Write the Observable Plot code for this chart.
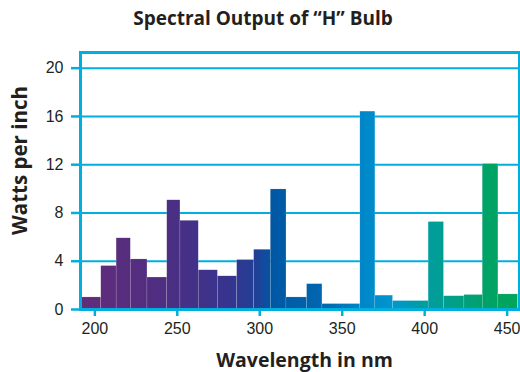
<!DOCTYPE html>
<html>
<head>
<meta charset="utf-8">
<script src="https://cdn.jsdelivr.net/npm/d3@7"></script>
<script src="https://cdn.jsdelivr.net/npm/@observablehq/plot@0.6"></script>
<style>
  html, body { margin: 0; padding: 0; background: #fff; }
  #title { height: 36px; line-height: 36px; width: 520px; text-align: center; padding-left: 6px; box-sizing: border-box;
           font-family: "Open Sans", sans-serif; font-weight: 700; font-size: 19px; color: #231f20; }
  #chart svg { display: block; }
</style>
</head>
<body>
<div id="title">Spectral Output of “H” Bulb</div>
<div id="chart"></div>
<script>
const binEdges = [192.3, 203.9, 213.2, 221.8, 231.9, 243.9, 251.9, 263.0, 274.6, 286.3, 296.6, 306.7,
                  316.2, 328.7, 338.0, 361.0, 370.1, 380.8, 402.4, 411.7, 424.1, 435.2, 444.7, 456.6];
const watts = [1.0, 3.6, 5.9, 4.15, 2.65, 9.05, 7.35, 3.25, 2.75, 4.1, 4.95, 9.95,
               1.0, 2.1, 0.45, 16.4, 1.15, 0.7, 7.25, 1.1, 1.2, 12.05, 1.25];
const xTicks = [200, 250, 300, 350, 400, 450];
const yTicks = [0, 4, 8, 12, 16, 20];
const gridValues = [4, 8, 12, 16, 20];
const xLabel = "Wavelength in nm";
const yLabel = "Watts per inch";

const gradientStops = [
  [0.00, "#632c7a"],
  [0.18, "#4f2e81"],
  [0.34, "#36348e"],
  [0.40, "#223f96"],
  [0.44, "#0058a5"],
  [0.56, "#0068b0"],
  [0.64, "#0085c8"],
  [0.71, "#0096cf"],
  [0.77, "#009ca8"],
  [0.86, "#00a084"],
  [0.93, "#00a266"],
  [1.00, "#00a559"]
];

const bins = watts.map((w, i) => ({lo: binEdges[i], hi: binEdges[i + 1], w}));
const cyan = "#00afdc";
const tickFont = "'Liberation Sans', Arial, sans-serif";

const chart = Plot.plot({
  width: 520,
  height: 336,
  marginTop: 16,
  marginBottom: 63,
  marginLeft: 80,
  marginRight: 1,
  style: {fontFamily: tickFont, fontSize: "16px", color: "#231f20", background: "#fff"},
  x: {domain: [191.3, 457.5]},
  y: {domain: [0, 21.3]},
  marks: [
    Plot.ruleY(gridValues, {stroke: cyan, strokeWidth: 2}),
    Plot.rectY(bins, {x1: "lo", x2: "hi", y: "w", fill: "url(#spec)", stroke: "#fff", strokeWidth: 0.4, strokeOpacity: 0.35}),
    Plot.axisY({ticks: yTicks, tickSize: 9, tickPadding: 8, stroke: cyan, strokeWidth: 2.5, fill: "#231f20", fontSize: 16, label: null}),
    Plot.axisX({ticks: xTicks, tickSize: 7, tickPadding: 6, stroke: cyan, strokeWidth: 2.5, fill: "#231f20", fontSize: 16, label: null}),
    Plot.frame({stroke: cyan, strokeWidth: 3}),
    Plot.text([yLabel], {frameAnchor: "left", textAnchor: "middle", rotate: -90, dx: -60, dy: -20.5, fontFamily: "'Open Sans', sans-serif", fontWeight: 700, fontSize: 20.5, fill: "#231f20"}),
    Plot.text([xLabel], {frameAnchor: "bottom", dx: 4.5, dy: 51.5, lineAnchor: "middle", fontFamily: "'Open Sans', sans-serif", fontWeight: 700, fontSize: 19.5, fill: "#231f20"})
  ]
});

const xr = chart.scale("x").range;
const defs = d3.select(chart).insert("defs", ":first-child");
const grad = defs.append("linearGradient")
  .attr("id", "spec")
  .attr("gradientUnits", "userSpaceOnUse")
  .attr("x1", xr[0]).attr("x2", xr[1]).attr("y1", 0).attr("y2", 0);
gradientStops.forEach(([o, c]) => grad.append("stop").attr("offset", o).attr("stop-color", c));

document.getElementById("chart").appendChild(chart);
</script>
</body>
</html>
